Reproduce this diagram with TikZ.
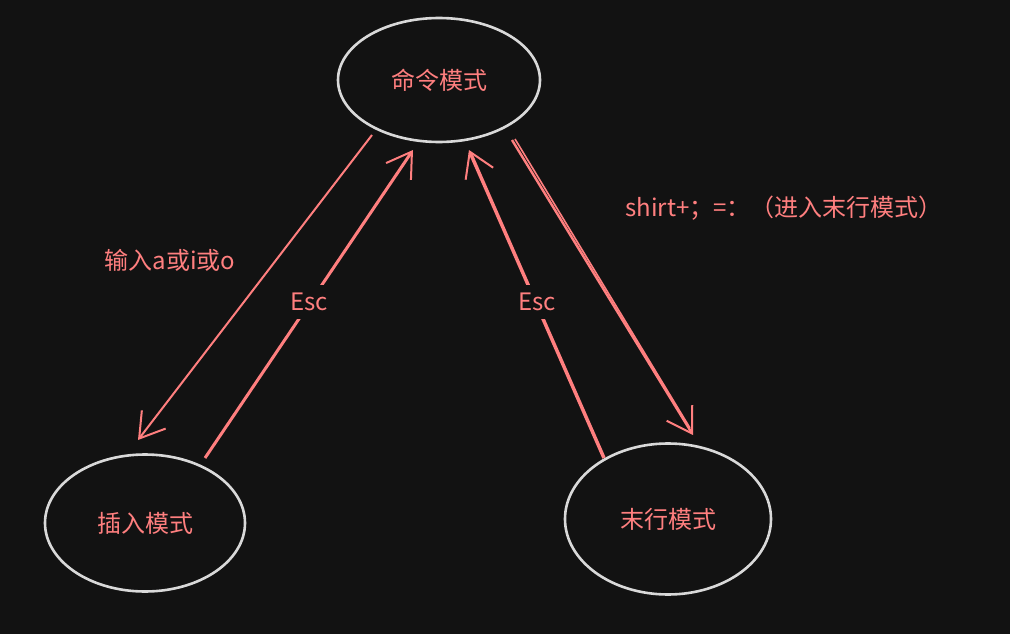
\documentclass[tikz,border=0pt]{standalone}
\usepackage{fontspec}
\setmainfont{Noto Sans CJK SC}
\usetikzlibrary{shapes.geometric,arrows.meta}
\definecolor{bg}{HTML}{121212}
\definecolor{salmon}{HTML}{FF7F7F}
\definecolor{ring}{HTML}{D9D9D9}
\tikzset{
  state/.style={ellipse, draw=ring, line width=2.6pt, text=salmon, font=\fontsize{24}{28}\selectfont, inner sep=0pt},
  conn/.style={draw=salmon, -{Straight Barb[length=24pt,width=30pt,line width=2pt]}},
  lbl/.style={text=salmon, font=\fontsize{24}{28}\selectfont, inner sep=2pt},
  gaplbl/.style={lbl, fill=bg, inner xsep=4pt, inner ysep=8pt}
}
\begin{document}
\begin{tikzpicture}[x=1pt,y=-1pt]
\fill[bg] (0,0) rectangle (1010,634);
\useasboundingbox (0,0) rectangle (1010,634);

\node[state, minimum width=202pt, minimum height=124pt] (cmd) at (439,80) {命令模式};
\node[state, minimum width=200pt, minimum height=137pt] (ins) at (145,523) {插入模式};
\node[state, minimum width=206pt, minimum height=151pt] (last) at (668,519) {末行模式};

\coordinate (a1s) at (372,135);
\coordinate (a1e) at (138,440);
\coordinate (a2s) at (205,458);
\coordinate (a2e) at (413,150);
\coordinate (a3s) at (604,458);
\coordinate (a3e) at (469,150);
\coordinate (a4s) at (512,140);
\coordinate (a4e) at (693,435);

\draw[conn, line width=2pt] (a1s) -- (a1e);
\draw[conn, line width=3pt] (a2s) -- (a2e);
\draw[conn, line width=3.5pt] (a3s) -- (a3e);
\draw[salmon, line width=1.6pt] (515,139) -- (690,428);
\draw[conn, line width=2.4pt] (a4s) -- (a4e);

\node[gaplbl] (esc1) at (309,302) {Esc};
\node[gaplbl] (esc2) at (537,302) {Esc};
\node[lbl] (l1) at (170,260) {输入a或i或o};
\node[lbl] (l2) at (784,208) {shirt+；=：（进入末行模式）};
\end{tikzpicture}
\end{document}
